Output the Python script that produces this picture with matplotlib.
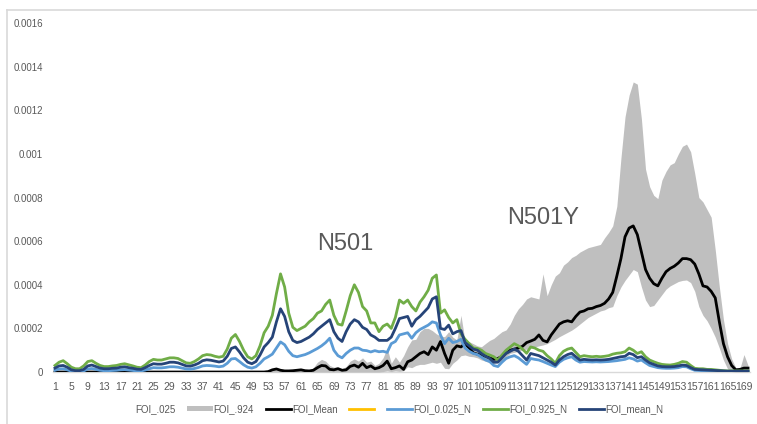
import numpy as np
import matplotlib
matplotlib.use("Agg")
import matplotlib.pyplot as plt
from matplotlib.lines import Line2D
from matplotlib.patches import Patch

# values are in units of 1e-4
day = np.arange(1, 171)

foi_lo = [0.0] * 80 + [
    0.02, 0.05, 0.02, 0.05, 0.03, 0.06, 0.24, 0.20, 0.30, 0.35,
    0.35, 0.40, 0.45, 0.40, 0.45, 0.17, 0.15, 0.40, 0.55, 0.75,
    0.78, 0.72, 0.70, 0.65, 0.55, 0.50, 0.42, 0.40, 0.45, 0.55,
    0.70, 0.86, 0.90, 0.95, 1.00, 1.05, 1.10, 1.15, 1.20, 1.24,
    1.30, 1.40, 1.50, 1.62, 1.72, 1.82, 1.92, 2.05, 2.20, 2.35,
    2.50, 2.60, 2.70, 2.80, 2.85, 2.95, 3.00, 3.50, 3.90, 4.20,
    4.45, 4.70, 4.60, 3.90, 3.30, 3.00, 3.05, 3.30, 3.55, 3.80,
    3.95, 4.05, 4.15, 4.20, 4.22, 4.10, 3.70, 3.00, 2.60, 2.35,
    2.00, 1.60, 1.10, 0.55, 0.15, 0.02, 0.00, 0.00, 0.00, 0.00,
]

foi_hi = [0.0] * 52 + [
    0.05, 0.15, 0.20, 0.12, 0.08, 0.08, 0.10, 0.12,
    0.15, 0.10, 0.10, 0.20, 0.45, 0.58, 0.50, 0.30, 0.22, 0.25,
    0.15, 0.25, 0.50, 0.60, 0.50, 0.65, 0.45, 0.50, 0.30, 0.40,
    0.65, 1.10, 0.40, 0.70, 0.45, 0.75, 1.16, 1.47, 1.50, 1.85,
    2.00, 2.00, 1.90, 1.75, 1.65, 1.62, 1.85, 1.60, 1.47, 2.60,
    1.40, 1.39, 1.30, 1.20, 1.16, 1.31, 1.45, 1.54, 1.70, 1.85,
    1.93, 2.20, 2.60, 2.90, 3.10, 3.35, 3.45, 3.40, 3.35, 4.50,
    3.50, 4.00, 4.40, 4.55, 4.90, 5.05, 5.25, 5.35, 5.50, 5.60,
    5.70, 5.75, 5.80, 5.85, 6.15, 6.40, 6.70, 7.60, 9.80, 11.70,
    12.70, 13.30, 13.20, 11.60, 9.30, 8.50, 8.10, 7.95, 8.80, 9.20,
    9.50, 9.60, 10.00, 10.35, 10.45, 10.10, 9.10, 8.00, 7.80, 7.45,
    7.10, 5.60, 3.90, 2.40, 1.30, 0.60, 0.20, 0.15, 0.80, 0.30,
]

foi_mean = [0.0] * 52 + [
    0.02, 0.10, 0.14, 0.08, 0.05, 0.05, 0.06, 0.08,
    0.10, 0.06, 0.05, 0.08, 0.20, 0.30, 0.28, 0.12, 0.10, 0.15,
    0.08, 0.10, 0.26, 0.32, 0.22, 0.40, 0.20, 0.28, 0.15, 0.20,
    0.30, 0.50, 0.15, 0.20, 0.28, 0.12, 0.47, 0.55, 0.70, 0.85,
    0.93, 0.80, 1.15, 1.00, 1.40, 0.85, 0.40, 1.00, 1.20, 1.15,
    1.30, 1.10, 0.88, 0.82, 0.78, 0.72, 0.65, 0.58, 0.62, 0.72,
    0.88, 1.00, 1.05, 1.10, 1.18, 1.35, 1.42, 1.50, 1.70, 1.45,
    1.38, 1.70, 1.95, 2.20, 2.30, 2.35, 2.30, 2.55, 2.75, 2.80,
    2.90, 2.92, 3.00, 3.05, 3.15, 3.35, 3.65, 4.40, 5.20, 6.20,
    6.60, 6.70, 6.30, 5.50, 4.70, 4.30, 4.05, 3.95, 4.30, 4.60,
    4.75, 4.85, 5.00, 5.20, 5.20, 5.15, 4.95, 4.50, 3.95, 3.90,
    3.70, 3.40, 2.30, 1.30, 0.70, 0.30, 0.10, 0.12, 0.18, 0.18,
]

foi_025_n = [
    0.08, 0.14, 0.15, 0.10, 0.04, 0.02, 0.02, 0.05, 0.14, 0.16,
    0.12, 0.08, 0.06, 0.06, 0.07, 0.08, 0.10, 0.11, 0.09, 0.07,
    0.05, 0.05, 0.09, 0.15, 0.20, 0.19, 0.19, 0.21, 0.24, 0.24,
    0.22, 0.18, 0.14, 0.13, 0.16, 0.21, 0.28, 0.30, 0.29, 0.27,
    0.24, 0.27, 0.40, 0.60, 0.62, 0.48, 0.33, 0.22, 0.18, 0.24,
    0.40, 0.60, 0.70, 0.82, 1.10, 1.38, 1.25, 0.95, 0.75, 0.70,
    0.75, 0.80, 0.88, 0.98, 1.08, 1.20, 1.35, 1.55, 1.00, 0.75,
    0.65, 0.85, 1.00, 1.10, 1.10, 1.00, 0.98, 0.92, 0.98, 0.93,
    0.95, 0.90, 1.30, 1.40, 1.70, 1.75, 1.80, 1.55, 1.80, 1.95,
    2.05, 2.15, 2.30, 2.25, 1.70, 1.30, 1.55, 1.35, 1.40, 1.50,
    1.10, 0.95, 0.85, 0.80, 0.68, 0.55, 0.48, 0.30, 0.25, 0.45,
    0.62, 0.70, 0.75, 0.65, 0.50, 0.35, 0.62, 0.58, 0.55, 0.48,
    0.40, 0.32, 0.25, 0.45, 0.58, 0.65, 0.70, 0.55, 0.45, 0.48,
    0.47, 0.46, 0.47, 0.46, 0.47, 0.48, 0.50, 0.52, 0.55, 0.58,
    0.65, 0.60, 0.50, 0.55, 0.42, 0.30, 0.25, 0.20, 0.18, 0.17,
    0.17, 0.18, 0.20, 0.25, 0.24, 0.15, 0.08, 0.07, 0.06, 0.05,
    0.05, 0.04, 0.03, 0.03, 0.02, 0.02, 0.02, 0.02, 0.02, 0.02,
]

foi_925_n = [
    0.30, 0.45, 0.52, 0.38, 0.22, 0.15, 0.15, 0.28, 0.48, 0.52,
    0.40, 0.30, 0.25, 0.25, 0.28, 0.30, 0.35, 0.38, 0.33, 0.28,
    0.22, 0.20, 0.32, 0.48, 0.58, 0.55, 0.55, 0.60, 0.65, 0.65,
    0.62, 0.52, 0.42, 0.40, 0.48, 0.60, 0.75, 0.80, 0.78, 0.72,
    0.68, 0.72, 1.05, 1.55, 1.72, 1.40, 1.00, 0.70, 0.60, 0.75,
    1.20, 1.80, 2.10, 2.60, 3.60, 4.50, 3.90, 2.70, 2.05, 1.90,
    2.00, 2.10, 2.30, 2.45, 2.70, 2.80, 3.10, 3.30, 2.60, 2.20,
    2.15, 2.80, 3.50, 4.00, 3.65, 3.00, 2.80, 2.25, 2.25, 1.85,
    2.10, 2.20, 2.00, 2.50, 3.30, 3.15, 3.30, 3.00, 2.80, 3.20,
    3.45, 3.75, 4.30, 4.45, 2.70, 2.85, 2.50, 2.25, 2.40, 1.75,
    1.50, 1.30, 1.10, 1.08, 1.00, 0.85, 0.78, 0.70, 0.55, 0.78,
    1.00, 1.15, 1.30, 1.20, 1.05, 0.86, 1.15, 1.10, 1.00, 0.95,
    0.75, 0.60, 0.40, 0.75, 0.95, 1.05, 1.10, 0.90, 0.70, 0.75,
    0.72, 0.70, 0.72, 0.70, 0.72, 0.75, 0.82, 0.86, 0.88, 0.93,
    1.10, 1.00, 0.85, 0.93, 0.70, 0.55, 0.47, 0.40, 0.35, 0.33,
    0.32, 0.35, 0.40, 0.48, 0.45, 0.30, 0.17, 0.15, 0.15, 0.12,
    0.12, 0.10, 0.08, 0.06, 0.05, 0.05, 0.05, 0.05, 0.05, 0.05,
]

foi_mean_n = [
    0.18, 0.28, 0.30, 0.22, 0.10, 0.06, 0.06, 0.12, 0.28, 0.32,
    0.25, 0.18, 0.15, 0.15, 0.17, 0.18, 0.22, 0.24, 0.20, 0.17,
    0.13, 0.12, 0.20, 0.30, 0.38, 0.36, 0.36, 0.40, 0.45, 0.45,
    0.42, 0.35, 0.28, 0.27, 0.32, 0.40, 0.52, 0.56, 0.54, 0.50,
    0.46, 0.50, 0.72, 1.08, 1.15, 0.92, 0.65, 0.45, 0.38, 0.48,
    0.78, 1.15, 1.35, 1.60, 2.30, 2.90, 2.55, 1.85, 1.45, 1.35,
    1.40, 1.50, 1.60, 1.75, 1.95, 2.10, 2.25, 2.40, 1.85, 1.55,
    1.40, 1.85, 2.20, 2.40, 2.30, 2.05, 1.95, 1.70, 1.60, 1.45,
    1.45, 1.45, 1.60, 2.00, 2.45, 2.50, 2.55, 2.10, 2.40, 2.55,
    2.75, 2.95, 3.35, 3.45, 2.00, 1.95, 2.15, 1.75, 1.85, 1.90,
    1.35, 1.20, 1.05, 1.00, 0.85, 0.72, 0.62, 0.45, 0.45, 0.65,
    0.85, 0.95, 1.05, 0.95, 0.75, 0.55, 0.85, 0.80, 0.75, 0.65,
    0.55, 0.45, 0.32, 0.55, 0.70, 0.80, 0.86, 0.70, 0.55, 0.58,
    0.56, 0.55, 0.56, 0.55, 0.56, 0.58, 0.62, 0.66, 0.70, 0.72,
    0.86, 0.80, 0.66, 0.70, 0.55, 0.42, 0.35, 0.28, 0.25, 0.24,
    0.24, 0.25, 0.28, 0.32, 0.30, 0.20, 0.12, 0.11, 0.10, 0.09,
    0.08, 0.07, 0.06, 0.05, 0.04, 0.04, 0.04, 0.04, 0.04, 0.04,
]

scale = 1e-4
lo = np.array(foi_lo) * scale
hi = np.array(foi_hi) * scale
mean = np.array(foi_mean) * scale
n_lo = np.array(foi_025_n) * scale
n_hi = np.array(foi_925_n) * scale
n_mean = np.array(foi_mean_n) * scale

plt.rcParams["font.family"] = ["Liberation Sans", "DejaVu Sans"]
txt = "#595959"

fig = plt.figure(figsize=(7.57, 4.24), dpi=100)
ax = fig.add_axes([0.0699, 0.1226, 0.921, 0.823])

ax.fill_between(day, lo, hi, color="#bfbfbf", linewidth=0, zorder=1)
ax.plot(day, mean, color="black", lw=2, zorder=3)
ax.plot(day, n_lo, color="#5b9bd5", lw=2, zorder=4)
ax.plot(day, n_hi, color="#70ad47", lw=2, zorder=5)
ax.plot(day, n_mean, color="#264478", lw=2, zorder=6)

ax.set_xlim(0.5, 170.5)
ax.set_ylim(0, 0.0016)
ax.set_yticks(np.arange(0, 0.00161, 0.0002))
ax.set_yticklabels(["0", "0.0002", "0.0004", "0.0006", "0.0008",
                    "0.001", "0.0012", "0.0014", "0.0016"])
ax.set_xticks(day[::4])
ax.set_xticklabels([str(d) for d in day[::4]])
ax.tick_params(axis="y", length=0, pad=7, labelsize=7, labelcolor=txt)
ax.tick_params(axis="x", length=0, pad=7, labelsize=7.5, labelcolor=txt)
for s in ["top", "right", "left"]:
    ax.spines[s].set_visible(False)
ax.spines["bottom"].set_color("#d9d9d9")
ax.spines["bottom"].set_linewidth(1)
ax.spines["bottom"].set_zorder(0)

ax.text(71.7, 0.000588, "N501", fontsize=17, color=txt, ha="center", va="center")
ax.text(120, 0.000704, "N501Y", fontsize=17, color=txt, ha="center", va="center")

handles = [
    Patch(facecolor="none", edgecolor="none"),
    Patch(facecolor="#bfbfbf", edgecolor="none"),
    Line2D([], [], color="black", lw=2),
    Line2D([], [], color="#ffc000", lw=2),
    Line2D([], [], color="#5b9bd5", lw=2),
    Line2D([], [], color="#70ad47", lw=2),
    Line2D([], [], color="#264478", lw=2),
]
labels = ["FOI_.025", "FOI_.924", "FOI_Mean", "", "FOI_0.025_N",
          "FOI_0.925_N", "FOI_mean_N"]
fig.legend(handles, labels, loc="center", bbox_to_anchor=(0.51, 0.035),
           ncol=7, frameon=False, fontsize=7, labelcolor=txt,
           handlelength=2.6, handleheight=0.5, handletextpad=0.1,
           columnspacing=1.2)

# chart border
fig.add_artist(Line2D([7 / 757, 1], [1 - 10 / 424] * 2, color="#d9d9d9", lw=1.2))
fig.add_artist(Line2D([7 / 757] * 2, [0, 1 - 10 / 424], color="#d9d9d9", lw=1.2))

fig.savefig("out.png", dpi=100)
